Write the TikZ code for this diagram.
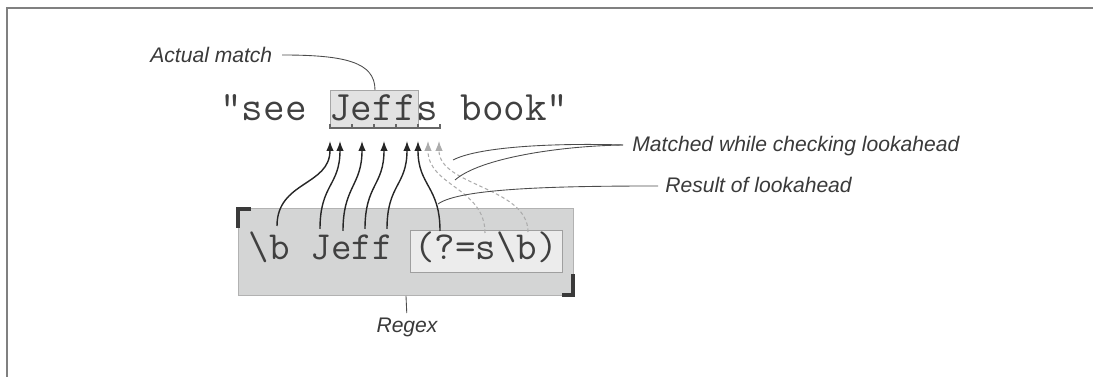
\documentclass[tikz,border=0pt]{standalone}
\usepackage{fontspec}
\setmainfont{Liberation Sans}
\usetikzlibrary{arrows.meta,positioning}

\definecolor{boxgray}{HTML}{D4D5D5}
\definecolor{matchgray}{HTML}{E2E2E2}
\definecolor{lookgray}{HTML}{ECECEC}
\definecolor{inkgray}{HTML}{3A3A3A}

\begin{document}
\begin{tikzpicture}[
            x=0.02cm, y=-0.02cm,
            subject/.style={font=\fontsize{23.85}{26}\selectfont\ttfamily, text=black!75, inner sep=0pt},
            pattern/.style={font=\fontsize{22.68}{26}\selectfont\ttfamily, text=black!75, inner sep=0pt},
            note/.style={font=\fontsize{12}{14}\selectfont\itshape, text=inkgray, inner sep=0pt},
            arrow/.style={-{Latex[length=0.2cm,width=0.15cm]}, line width=0.8pt, black!85},
            probe/.style={-{Latex[length=0.2cm,width=0.15cm]}, line width=0.6pt, gray!65, dash pattern=on 2pt off 1.5pt},
            leader/.style={line width=0.5pt, gray!60!black}
        ]
            \useasboundingbox (0,0) rectangle (1093,377);
            \draw[line width=1.6pt, gray] (7,377) -- (7,8) -- (1093,8);

            % the subject string
            \node[draw=gray!70, fill=matchgray, inner sep=0pt, minimum width=1.76cm, minimum height=0.76cm, anchor=north west] (hl) at (330,90) {};
            \node[subject, anchor=base west] (pre) at (220,121) {"see};
            \node[subject, base right=0.44cm of pre] (match) {Jeff};
            \node[subject, base right=0pt of match] (ahead) {s};
            \node[subject, base right=0.44cm of ahead] (post) {book"};
            \draw[line width=0.6pt, gray!80!black] (330,124) -- (330,128) -- (440,128) -- (440,124);
            \foreach \x in {352,374,396,418}
                \draw[line width=0.6pt, gray!80!black] (\x,128) -- (\x,124);

            % the regex
            \node[fill=boxgray, draw=gray!60, inner sep=0pt, minimum width=6.7cm, minimum height=1.74cm, anchor=north west] (rx) at (238,208) {};
            \draw[line width=2.2pt, inkgray] (251,209) -- (238,209) -- (238,228);
            \draw[line width=2.2pt, inkgray] (562,295) -- (573,295) -- (573,274);
            \node[pattern, anchor=base west] (word) at (248.6,260) {\textbackslash b Jeff};
            \node[pattern, draw=gray!75, fill=lookgray, inner xsep=0.08cm, inner ysep=0.04cm, text height=0.56cm, text depth=0.2cm, base right=0.34cm of word] (look) {(?=s\textbackslash b)};

            % arrow ends
            \coordinate (s1) at (277,226);
            \coordinate (s2) at (320,229);
            \coordinate (s3) at (343,231);
            \coordinate (s4) at (365,229);
            \coordinate (s5) at (387,229);
            \coordinate (s6) at (440,231);
            \coordinate (s7) at (485,233);
            \coordinate (s8) at (528,232);
            \coordinate (t1) at (330,141);
            \coordinate (t2) at (340,141);
            \coordinate (t3) at (362,141);
            \coordinate (t4) at (384,141);
            \coordinate (t5) at (407,141);
            \coordinate (t6) at (418,141);
            \coordinate (t7) at (428,141);
            \coordinate (t8) at (439,141);

            \draw[arrow] (s1) .. controls +(0,-45) and +(0,45) .. (t1);
            \draw[arrow] (s2) .. controls +(0,-45) and +(0,45) .. (t2);
            \draw[arrow] (s3) .. controls +(0,-45) and +(0,45) .. (t3);
            \draw[arrow] (s4) .. controls +(0,-45) and +(0,45) .. (t4);
            \draw[arrow] (s5) .. controls +(0,-45) and +(0,45) .. (t5);
            \draw[arrow] (s6) .. controls +(0,-45) and +(0,45) .. (t6);
            \draw[probe] (s7) .. controls +(0,-45) and +(0,45) .. (t7);
            \draw[probe] (s8) .. controls +(0,-45) and +(0,45) .. (t8);

            % labels
            \node[note, anchor=base west] (actual) at (150,63) {Actual match};
            \node[note, anchor=base west] (matched) at (632,152) {Matched while checking lookahead};
            \node[note, anchor=base west] (result) at (665,193) {Result of lookahead};
            \node[note, anchor=north] (regex) at (407,318) {Regex};

            \coordinate (aj) at (282,55);
            \coordinate (ah) at (375,90);
            \coordinate (mj) at (623,145);
            \coordinate (m1) at (453,160);
            \coordinate (m2) at (455,180);
            \coordinate (rj) at (658,186);
            \coordinate (r1) at (438,204);
            \coordinate (rb) at (406,296);

            \draw[leader] (aj) .. controls (345,55) and (375,62) .. (ah);
            \draw[leader] (mj) .. controls (560,143) and (480,146) .. (m1);
            \draw[leader] (mj) .. controls (560,146) and (480,158) .. (m2);
            \draw[leader] (rj) .. controls (560,186) and (460,188) .. (r1);
            \draw[leader, shorten >=0.1cm] (rb) -- (regex.north);
        \end{tikzpicture}
\end{document}
